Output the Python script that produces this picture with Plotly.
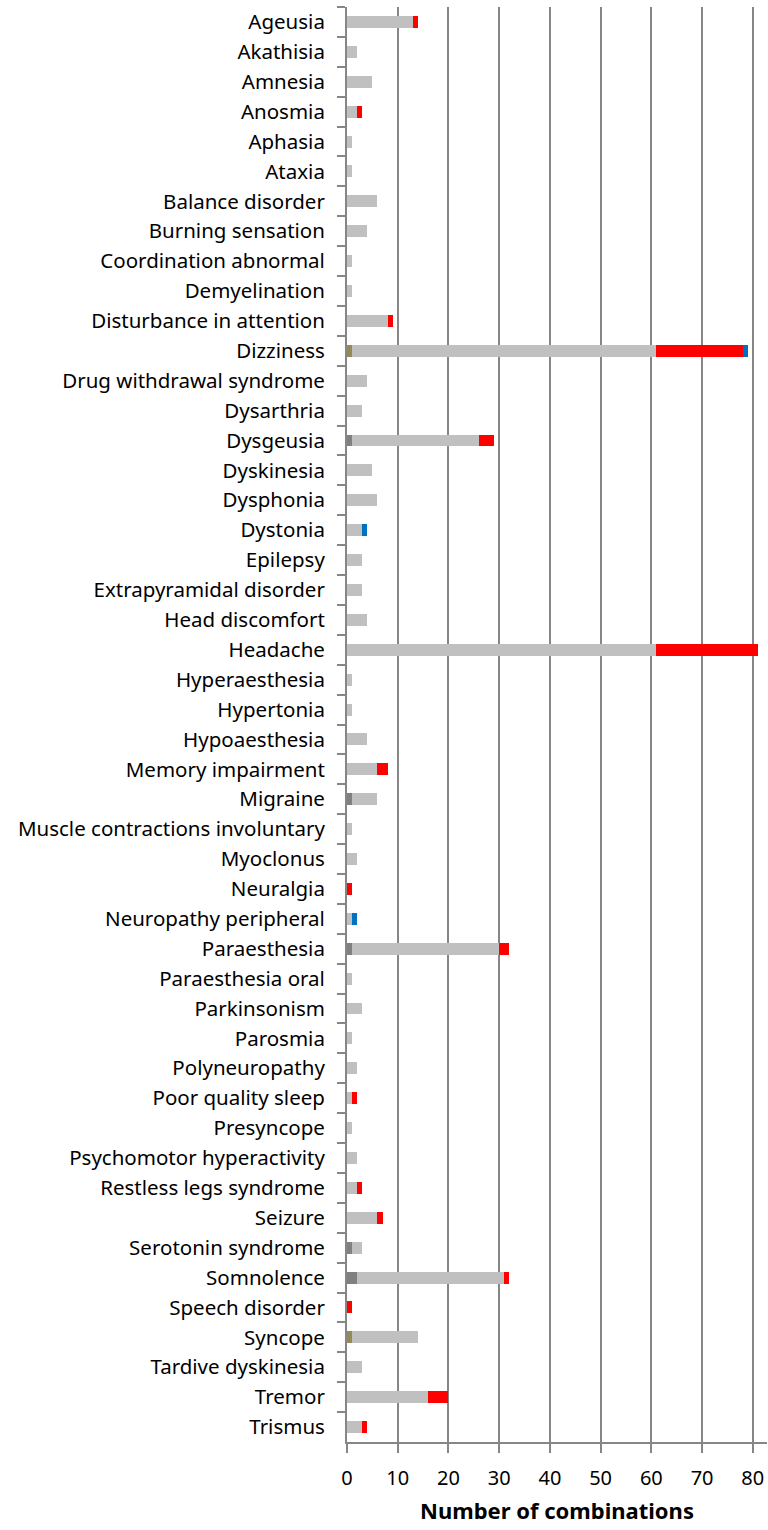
import plotly.graph_objects as go

categories = ["Ageusia", "Akathisia", "Amnesia", "Anosmia", "Aphasia", "Ataxia",
              "Balance disorder", "Burning sensation", "Coordination abnormal", "Demyelination",
              "Disturbance in attention", "Dizziness", "Drug withdrawal syndrome", "Dysarthria",
              "Dysgeusia", "Dyskinesia", "Dysphonia", "Dystonia", "Epilepsy",
              "Extrapyramidal disorder", "Head discomfort", "Headache", "Hyperaesthesia",
              "Hypertonia", "Hypoaesthesia", "Memory impairment", "Migraine",
              "Muscle contractions involuntary", "Myoclonus", "Neuralgia", "Neuropathy peripheral",
              "Paraesthesia", "Paraesthesia oral", "Parkinsonism", "Parosmia", "Polyneuropathy",
              "Poor quality sleep", "Presyncope", "Psychomotor hyperactivity",
              "Restless legs syndrome", "Seizure", "Serotonin syndrome", "Somnolence",
              "Speech disorder", "Syncope", "Tardive dyskinesia", "Tremor", "Trismus"]

olive = [0,0,0,0,0,0, 0,0,0,0, 0,1,0,0, 0,0,0,0,0, 0,0,0,0, 0,0,0,0, 0,0,0,0, 0,0,0,0,0, 0,0,0, 0,0,0,0, 0,1,0,0,0]
dark_gray = [0,0,0,0,0,0, 0,0,0,0, 0,0,0,0, 1,0,0,0,0, 0,0,0,0, 0,0,0,1, 0,0,0,0, 1,0,0,0,0, 0,0,0, 0,0,1,2, 0,0,0,0,0]
light_gray = [13,2,5,2,1,1, 6,4,1,1, 8,60,4,3, 25,5,6,3,3, 3,4,61,1, 1,4,6,5, 1,2,0,1, 29,1,3,1,2, 1,1,2, 2,6,2,29, 0,13,3,16,3]
red = [1,0,0,1,0,0, 0,0,0,0, 1,17,0,0, 3,0,0,0,0, 0,0,20,0, 0,0,2,0, 0,0,1,0, 2,0,0,0,0, 1,0,0, 1,1,0,1, 1,0,0,4,1]
blue = [0,0,0,0,0,0, 0,0,0,0, 0,1,0,0, 0,0,0,1,0, 0,0,0,0, 0,0,0,0, 0,0,0,1, 0,0,0,0,0, 0,0,0, 0,0,0,0, 0,0,0,0,0]

x_ticks = [0, 10, 20, 30, 40, 50, 60, 70, 80]

series = [
    ("Series 1", olive, "#948A54"),
    ("Series 2", dark_gray, "#808080"),
    ("Series 3", light_gray, "#C0C0C0"),
    ("Series 4", red, "#FF0000"),
    ("Series 5", blue, "#0070C0"),
]

fig = go.Figure()
for name, vals, color in series:
    fig.add_trace(go.Bar(y=categories, x=vals, name=name, orientation="h",
                         marker=dict(color=color, line=dict(width=0))))

fig.update_layout(
    barmode="stack",
    bargap=0.6,
    width=768, height=1530,
    margin=dict(l=347, r=1, t=7, b=88),
    paper_bgcolor="white", plot_bgcolor="white",
    showlegend=False,
    font=dict(family="Noto Sans, Open Sans, sans-serif", color="#000000"),
)
fig.update_yaxes(
    categoryorder="array", categoryarray=categories, autorange="reversed",
    automargin=False,
    showgrid=False, showline=True, linecolor="#868686", linewidth=2,
    ticks="outside", tickson="boundaries", ticklen=8, tickwidth=2, tickcolor="#868686",
    tickfont=dict(size=20.5, color="#000000"), ticklabelstandoff=16,
)
fig.update_xaxes(
    range=[0, 82.8], tickvals=x_ticks, ticktext=[str(v) for v in x_ticks],
    automargin=False,
    showgrid=True, gridcolor="#868686", gridwidth=2,
    showline=True, linecolor="#868686", linewidth=2,
    ticks="outside", ticklen=9, tickwidth=2, tickcolor="#868686",
    tickfont=dict(size=20, color="#000000"), ticklabelstandoff=8,
    zeroline=False,
    title=dict(text="<b>Number of combinations</b>", font=dict(size=22, color="#000000"), standoff=14),
)

fig.write_html("out.html",
               config={"displayModeBar": False},
               post_script="document.body.style.margin='0';document.body.style.overflow='hidden';")
